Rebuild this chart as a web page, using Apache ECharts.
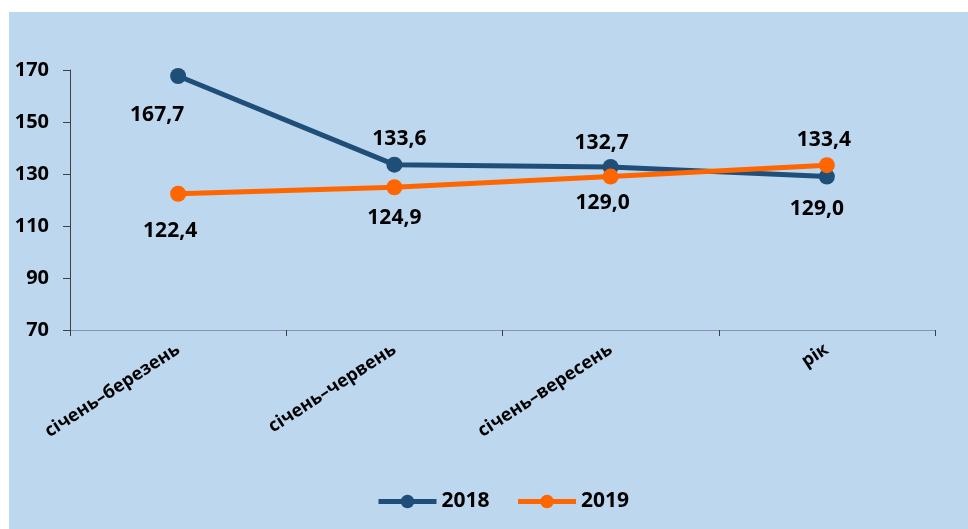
<!DOCTYPE html>
<html>
<head>
<meta charset="utf-8">
<script src="https://cdn.jsdelivr.net/npm/echarts@6/dist/echarts.min.js"></script>
<style>
  html, body { margin: 0; padding: 0; background: #ffffff; }
  #panel { position: absolute; left: 9px; top: 12px; width: 959px; height: 517px; background: #bdd7ee; }
  #chart { position: absolute; left: 0; top: 0; width: 968px; height: 529px; }
</style>
</head>
<body>
<div id="panel"></div>
<div id="chart"></div>
<script>
// Periods (cumulative from January) and the index values for each year
const categories = ['січень–березень', 'січень–червень', 'січень–вересень', 'рік'];
const values2018 = [167.7, 133.6, 132.7, 129.0];
const values2019 = [122.4, 124.9, 129.0, 133.4];
const yTicks = { min: 70, max: 170, step: 20 };

// Offsets of each value label from its point (centre to centre, px)
const labelShift2018 = [[-21, 39], [5, -26], [-9, -24], [-10, 32]];
const labelShift2019 = [[-8, 37], [0, 31], [-8, 26], [-3, -25]];

const FONT = '"Open Sans", "DejaVu Sans", sans-serif';
const SYMBOL = 16;

function fmt(v) { return v.toFixed(1).replace('.', ','); }

function points(values, shifts) {
  return values.map((v, i) => ({
    value: v,
    label: {
      position: [SYMBOL / 2 + shifts[i][0], SYMBOL / 2 + shifts[i][1]],
      align: 'center',
      verticalAlign: 'middle'
    }
  }));
}

const labelStyle = {
  show: true,
  formatter: p => fmt(p.value),
  color: '#000000',
  fontFamily: FONT,
  fontWeight: 'bold',
  fontSize: 21
};

const chart = echarts.init(document.getElementById('chart'), null, { renderer: 'canvas' });
chart.setOption({
  backgroundColor: 'transparent',
  animation: false,
  grid: { left: 70, right: 33, top: 70, bottom: 199, containLabel: false },
  legend: {
    left: 371,
    top: 486,
    itemWidth: 58,
    itemHeight: 17,
    itemGap: 26,
    lineStyle: { width: 5 },
    textStyle: { color: '#000000', fontFamily: FONT, fontWeight: 'bold', fontSize: 21 },
    data: ['2018', '2019']
  },
  xAxis: {
    type: 'category',
    data: categories,
    boundaryGap: true,
    axisLine: { lineStyle: { color: '#8497b0', width: 1 } },
    axisTick: { show: true, length: 6, alignWithLabel: false, lineStyle: { color: '#404040' } },
    axisLabel: {
      rotate: 33,
      margin: 18,
      interval: 0,
      color: '#000000',
      fontFamily: FONT,
      fontWeight: 'bold',
      fontSize: 18
    },
    splitLine: { show: false }
  },
  yAxis: {
    type: 'value',
    min: yTicks.min,
    max: yTicks.max,
    interval: yTicks.step,
    axisLine: { show: true, lineStyle: { color: '#404040', width: 1 } },
    axisTick: { show: true, length: 7, lineStyle: { color: '#404040' } },
    axisLabel: {
      margin: 21,
      color: '#000000',
      fontFamily: FONT,
      fontWeight: 'bold',
      fontSize: 20
    },
    splitLine: { show: false }
  },
  series: [
    {
      name: '2018',
      type: 'line',
      data: points(values2018, labelShift2018),
      symbol: 'circle',
      symbolSize: SYMBOL,
      lineStyle: { color: '#1f4e79', width: 5 },
      itemStyle: { color: '#1f4e79' },
      label: labelStyle,
      z: 2
    },
    {
      name: '2019',
      type: 'line',
      data: points(values2019, labelShift2019),
      symbol: 'circle',
      symbolSize: SYMBOL,
      lineStyle: { color: '#ff6600', width: 5 },
      itemStyle: { color: '#ff6600' },
      label: labelStyle,
      z: 3
    }
  ]
});
</script>
</body>
</html>
